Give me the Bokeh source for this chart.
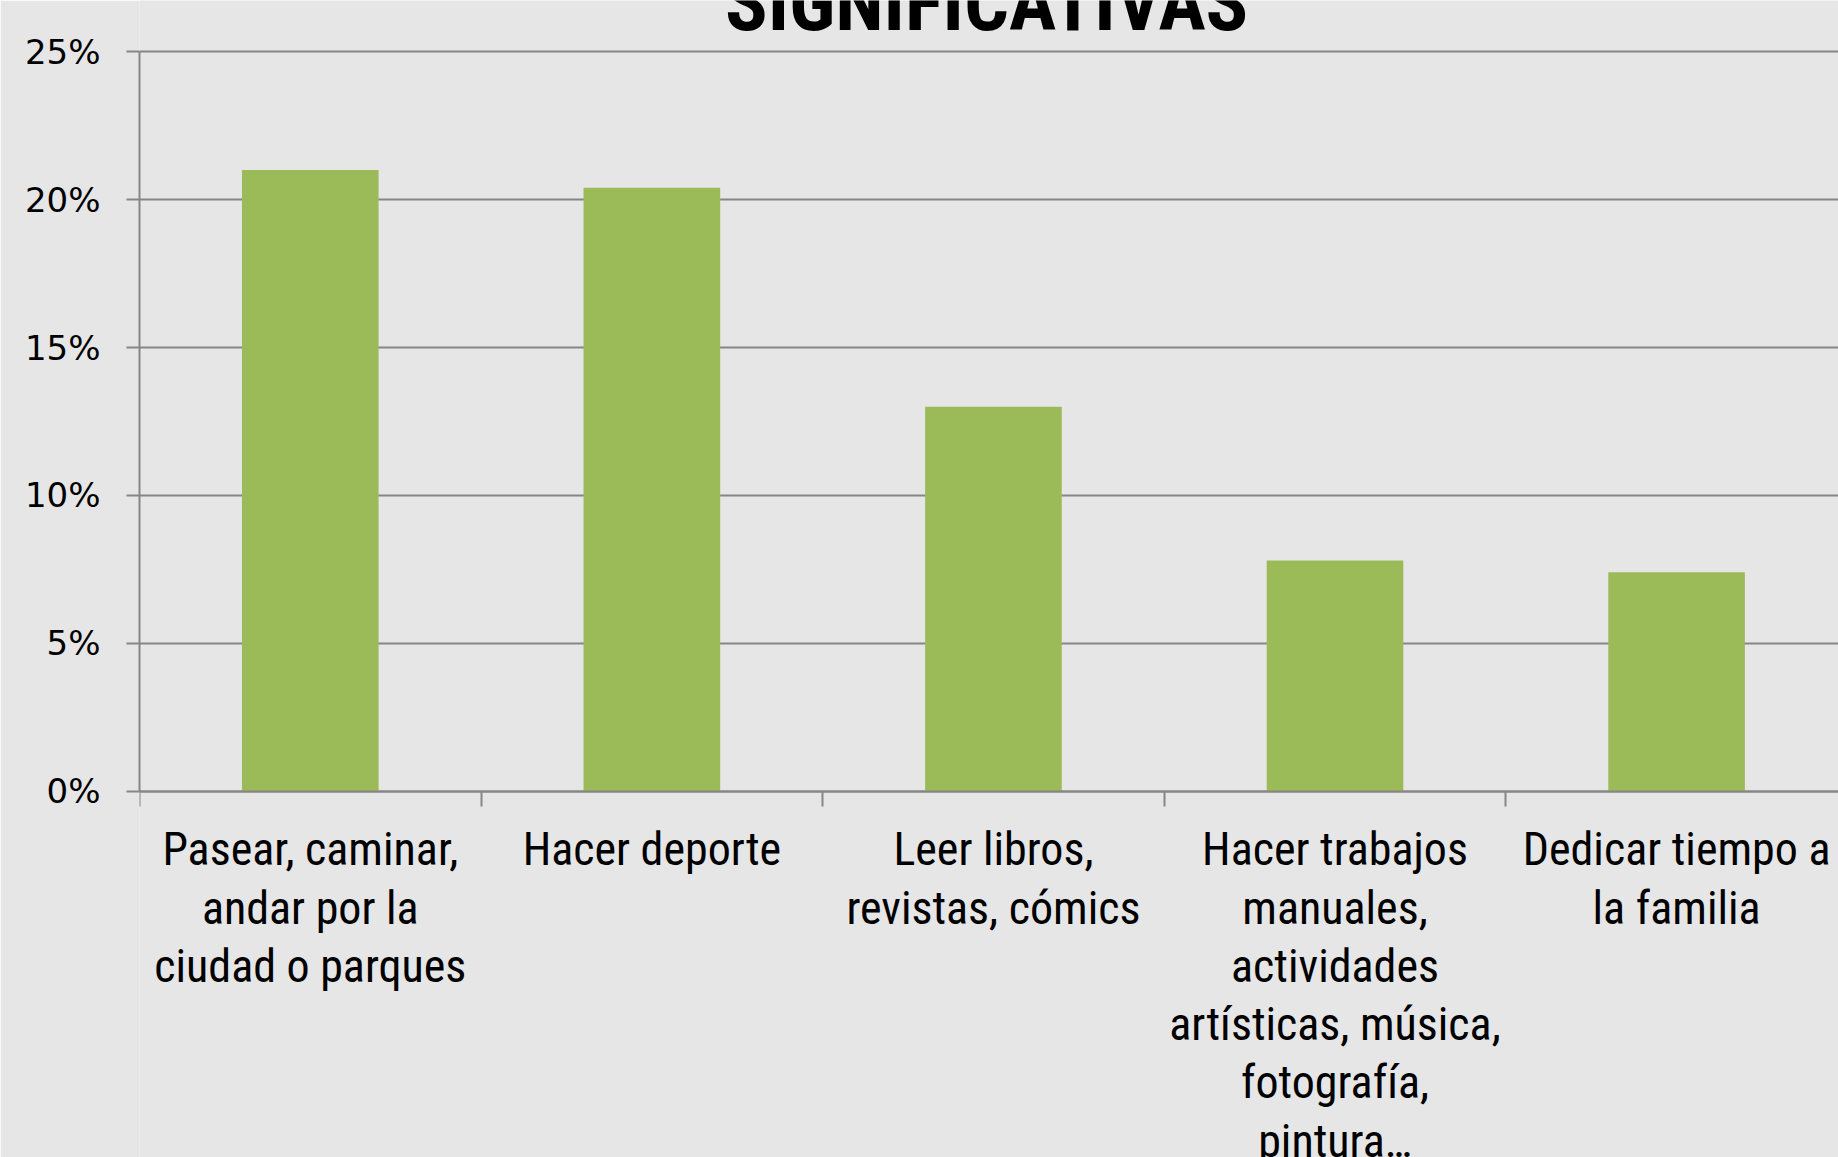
from bokeh.plotting import figure
from bokeh.models import Range1d, FixedTicker, NumeralTickFormatter, Label, ColumnDataSource
from bokeh.embed import file_html
from bokeh.resources import INLINE

categories = [
    "Pasear, caminar,\nandar por la\nciudad o parques",
    "Hacer deporte",
    "Leer libros,\nrevistas, cómics",
    "Hacer trabajos\nmanuales,\nactividades\nartísticas, música,\nfotografía,\npintura…",
    "Dedicar tiempo a\nla familia",
]
values = [0.21, 0.204, 0.13, 0.078, 0.074]
y_ticks = [0.0, 0.05, 0.10, 0.15, 0.20, 0.25]
title_text = "SIGNIFICATIVAS"

centers = [i + 0.5 for i in range(len(categories))]
boundaries = [float(i) for i in range(len(categories) + 1)]

GREY = "#868686"
BG = "#e6e6e6"
LABEL_FONT = "'Roboto Condensed', 'Liberation Sans Narrow', Roboto, sans-serif"

src = ColumnDataSource(dict(x=centers, top=values))

p = figure(width=1838, height=1157,
           x_range=Range1d(0, 4.974), y_range=Range1d(-0.12383, 0.26731),
           output_backend="svg", toolbar_location=None,
           min_border_left=139, min_border_right=0,
           min_border_top=0, min_border_bottom=0,
           background_fill_color=BG, border_fill_color=BG,
           outline_line_color=None)

p.vbar(x="x", top="top", bottom=0, width=0.4, source=src,
       fill_color="#9bbb59", line_color=None)

# x axis at y = 0, ticks at category boundaries
xax = p.xaxis[0]
xax.fixed_location = 0
xax.ticker = FixedTicker(ticks=centers, minor_ticks=boundaries)
xax.major_label_overrides = {c: lab for c, lab in zip(centers, categories)}
xax.major_tick_out = 0
xax.major_tick_in = 0
xax.minor_tick_out = 15
xax.minor_tick_in = 0
xax.minor_tick_line_color = GREY
xax.minor_tick_line_width = 2
xax.axis_line_color = GREY
xax.axis_line_width = 2
xax.major_label_text_font = LABEL_FONT
xax.major_label_text_font_size = "46px"
xax.major_label_text_line_height = 1.08
xax.major_label_text_color = "black"
xax.major_label_standoff = 16

yax = p.yaxis[0]
yax.bounds = (0, 0.25)
yax.ticker = FixedTicker(ticks=y_ticks)
yax.formatter = NumeralTickFormatter(format="0%")
yax.major_tick_out = 13
yax.major_tick_in = 0
yax.minor_tick_line_color = None
yax.major_tick_line_color = GREY
yax.major_tick_line_width = 2
yax.axis_line_color = GREY
yax.axis_line_width = 2
yax.major_label_text_font = "DejaVu Sans"
yax.major_label_text_font_size = "34px"
yax.major_label_text_color = "black"
yax.major_label_standoff = 26

p.xgrid.visible = False
p.ygrid.ticker = FixedTicker(ticks=y_ticks)
p.ygrid.grid_line_color = GREY
p.ygrid.grid_line_width = 2

p.add_layout(Label(x=2.48, y=0.2666, text=title_text, text_align="center",
                   text_baseline="alphabetic",
                   text_font="'Roboto Condensed', 'Liberation Sans Narrow', Roboto, sans-serif",
                   text_font_style="bold", text_font_size="79px", text_color="black"))

open("out.html", "w").write(file_html(p, INLINE))
